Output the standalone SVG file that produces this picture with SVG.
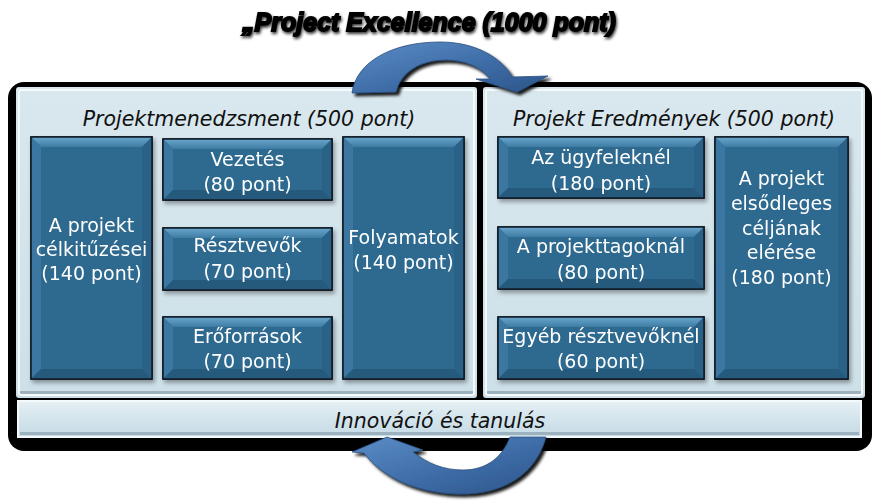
<svg xmlns="http://www.w3.org/2000/svg" width="879" height="502" viewBox="0 0 879 502">
<defs>
<linearGradient id="panelG" x1="0" y1="0" x2="0" y2="1">
<stop offset="0" stop-color="#d9e8ee"/><stop offset="1" stop-color="#cde0e8"/>
</linearGradient>
<linearGradient id="barG" x1="0" y1="0" x2="0" y2="1">
<stop offset="0" stop-color="#e6f0f4"/><stop offset="0.5" stop-color="#d3e4ec"/><stop offset="1" stop-color="#c6dbe5"/>
</linearGradient>
<linearGradient id="topBev" x1="0" y1="0" x2="0" y2="1">
<stop offset="0" stop-color="#6aa6cc"/><stop offset="1" stop-color="#3d7ca4"/>
</linearGradient>
<linearGradient id="arrowG" x1="0" y1="0" x2="1" y2="1">
<stop offset="0" stop-color="#5b8cc6"/><stop offset="0.6" stop-color="#3b69a3"/><stop offset="1" stop-color="#2d5589"/>
</linearGradient>
<filter id="sh" x="-10%" y="-10%" width="130%" height="140%">
<feDropShadow dx="2" dy="3" stdDeviation="2" flood-color="#000" flood-opacity="0.35"/>
</filter>
<filter id="ash" x="-20%" y="-20%" width="150%" height="150%">
<feDropShadow dx="3" dy="3" stdDeviation="1.5" flood-color="#000" flood-opacity="0.9"/>
</filter>
<filter id="tsh" x="-5%" y="-20%" width="115%" height="160%">
<feDropShadow dx="1" dy="2" stdDeviation="1.5" flood-color="#000" flood-opacity="0.8"/>
</filter>
</defs>
<style>
.panel{fill:url(#panelG);}
.pedge{fill:none;stroke:#f4f9fb;stroke-width:2;}
.pbot{fill:#9cb3bf;}
.box{fill:#2e6a8f;stroke:#0c1a24;stroke-width:1.5;}
.bt{fill:url(#topBev);}
.bl{fill:#3a77a0;}
.br{fill:#2a6287;}
.bb{fill:#255a7c;}
.lbl{font-family:"DejaVu Sans",Verdana,sans-serif;font-size:19px;fill:#ffffff;text-anchor:middle;}
.hdr{font-family:"DejaVu Sans",Verdana,sans-serif;font-size:20.5px;font-style:italic;fill:#111;text-anchor:middle;}
.title{font-family:"Liberation Sans",Arial,sans-serif;font-size:25px;font-weight:bold;font-style:italic;fill:#000;stroke:#000;stroke-width:1.8;text-anchor:middle;}
.arrow{fill:url(#arrowG);stroke:#2a4f80;stroke-width:0.8;}
</style>

<!-- title -->
<g id="title">
<text class="title" x="429" y="31" filter="url(#tsh)">„Project Excellence (1000 pont)</text>
</g>

<!-- frame -->
<g id="frame">
<rect x="8" y="82" width="864" height="369" rx="16" fill="#000"/>
</g>

<!-- left panel -->
<g id="panel-pm">
<rect class="panel" x="16" y="87" width="461" height="311" rx="3"/>
<rect class="pbot" x="20" y="391" width="453" height="5"/>
<rect class="pedge" x="19" y="90" width="455" height="305" rx="2"/>
<text class="hdr" x="249" y="126">Projektmenedzsment (500 pont)</text>
</g>

<!-- right panel -->
<g id="panel-pe">
<rect class="panel" x="483" y="87" width="382" height="311" rx="3"/>
<rect class="pbot" x="487" y="391" width="374" height="5"/>
<rect class="pedge" x="486" y="90" width="376" height="305" rx="2"/>
<text class="hdr" x="674" y="126">Projekt Eredmények (500 pont)</text>
</g>

<!-- bottom bar -->
<g id="bar-innovacio">
<rect x="18" y="401" width="843" height="36" fill="url(#barG)" stroke="#f4f9fb" stroke-width="2"/>
<rect x="20" y="432" width="839" height="3" fill="#9cb3bf"/>
<text class="hdr" x="440" y="428">Innováció és tanulás</text>
</g>

<!-- boxes -->
<g id="box-celkituzesei" filter="url(#sh)">
<rect class="box" x="31" y="137" width="121" height="242"/>
<polygon class="bt" points="31,137 152,137 142,147 41,147"/>
<polygon class="bl" points="31,137 41,147 41,369 31,379"/>
<polygon class="br" points="152,137 142,147 142,369 152,379"/>
<polygon class="bb" points="31,379 41,369 142,369 152,379"/>
<rect x="31" y="137" width="121" height="242" fill="none" stroke="#0c1a24" stroke-width="1.5"/>
<text class="lbl" x="91.5" y="232">A projekt</text>
<text class="lbl" x="91.5" y="256">célkitűzései</text>
<text class="lbl" x="91.5" y="280">(140 pont)</text>
</g>

<g id="box-vezetes" filter="url(#sh)">
<rect class="box" x="163" y="139" width="169" height="61"/>
<polygon class="bt" points="163,139 332,139 322,149 173,149"/>
<polygon class="bl" points="163,139 173,149 173,190 163,200"/>
<polygon class="br" points="332,139 322,149 322,190 332,200"/>
<polygon class="bb" points="163,200 173,190 322,190 332,200"/>
<rect x="163" y="139" width="169" height="61" fill="none" stroke="#0c1a24" stroke-width="1.5"/>
<text class="lbl" x="247.5" y="166">Vezetés</text>
<text class="lbl" x="247.5" y="191">(80 pont)</text>
</g>

<g id="box-resztvevok" filter="url(#sh)">
<rect class="box" x="163" y="228" width="169" height="62"/>
<polygon class="bt" points="163,228 332,228 322,238 173,238"/>
<polygon class="bl" points="163,228 173,238 173,280 163,290"/>
<polygon class="br" points="332,228 322,238 322,280 332,290"/>
<polygon class="bb" points="163,290 173,280 322,280 332,290"/>
<rect x="163" y="228" width="169" height="62" fill="none" stroke="#0c1a24" stroke-width="1.5"/>
<text class="lbl" x="247.5" y="252">Résztvevők</text>
<text class="lbl" x="247.5" y="278">(70 pont)</text>
</g>

<g id="box-eroforrasok" filter="url(#sh)">
<rect class="box" x="163" y="317" width="169" height="62"/>
<polygon class="bt" points="163,317 332,317 322,327 173,327"/>
<polygon class="bl" points="163,317 173,327 173,369 163,379"/>
<polygon class="br" points="332,317 322,327 322,369 332,379"/>
<polygon class="bb" points="163,379 173,369 322,369 332,379"/>
<rect x="163" y="317" width="169" height="62" fill="none" stroke="#0c1a24" stroke-width="1.5"/>
<text class="lbl" x="247.5" y="343">Erőforrások</text>
<text class="lbl" x="247.5" y="368">(70 pont)</text>
</g>

<g id="box-folyamatok" filter="url(#sh)">
<rect class="box" x="343" y="137" width="121" height="242"/>
<polygon class="bt" points="343,137 464,137 454,147 353,147"/>
<polygon class="bl" points="343,137 353,147 353,369 343,379"/>
<polygon class="br" points="464,137 454,147 454,369 464,379"/>
<polygon class="bb" points="343,379 353,369 454,369 464,379"/>
<rect x="343" y="137" width="121" height="242" fill="none" stroke="#0c1a24" stroke-width="1.5"/>
<text class="lbl" x="403.5" y="244">Folyamatok</text>
<text class="lbl" x="403.5" y="269">(140 pont)</text>
</g>

<g id="box-ugyfeleknel" filter="url(#sh)">
<rect class="box" x="498" y="137" width="206" height="61"/>
<polygon class="bt" points="498,137 704,137 694,147 508,147"/>
<polygon class="bl" points="498,137 508,147 508,188 498,198"/>
<polygon class="br" points="704,137 694,147 694,188 704,198"/>
<polygon class="bb" points="498,198 508,188 694,188 704,198"/>
<rect x="498" y="137" width="206" height="61" fill="none" stroke="#0c1a24" stroke-width="1.5"/>
<text class="lbl" x="601" y="164">Az ügyfeleknél</text>
<text class="lbl" x="601" y="190">(180 pont)</text>
</g>

<g id="box-projekttagoknal" filter="url(#sh)">
<rect class="box" x="498" y="227" width="206" height="62"/>
<polygon class="bt" points="498,227 704,227 694,237 508,237"/>
<polygon class="bl" points="498,227 508,237 508,279 498,289"/>
<polygon class="br" points="704,227 694,237 694,279 704,289"/>
<polygon class="bb" points="498,289 508,279 694,279 704,289"/>
<rect x="498" y="227" width="206" height="62" fill="none" stroke="#0c1a24" stroke-width="1.5"/>
<text class="lbl" x="601" y="253">A projekttagoknál</text>
<text class="lbl" x="601" y="279">(80 pont)</text>
</g>

<g id="box-egyeb" filter="url(#sh)">
<rect class="box" x="498" y="317" width="206" height="62"/>
<polygon class="bt" points="498,317 704,317 694,327 508,327"/>
<polygon class="bl" points="498,317 508,327 508,369 498,379"/>
<polygon class="br" points="704,317 694,327 694,369 704,379"/>
<polygon class="bb" points="498,379 508,369 694,369 704,379"/>
<rect x="498" y="317" width="206" height="62" fill="none" stroke="#0c1a24" stroke-width="1.5"/>
<text class="lbl" x="601" y="343">Egyéb résztvevőknél</text>
<text class="lbl" x="601" y="368">(60 pont)</text>
</g>

<g id="box-elsodleges" filter="url(#sh)">
<rect class="box" x="715" y="137" width="133" height="242"/>
<polygon class="bt" points="715,137 848,137 838,147 725,147"/>
<polygon class="bl" points="715,137 725,147 725,369 715,379"/>
<polygon class="br" points="848,137 838,147 838,369 848,379"/>
<polygon class="bb" points="715,379 725,369 838,369 848,379"/>
<rect x="715" y="137" width="133" height="242" fill="none" stroke="#0c1a24" stroke-width="1.5"/>
<text class="lbl" x="781.5" y="185">A projekt</text>
<text class="lbl" x="781.5" y="210">elsődleges</text>
<text class="lbl" x="781.5" y="235">céljának</text>
<text class="lbl" x="781.5" y="259">elérése</text>
<text class="lbl" x="781.5" y="284">(180 pont)</text>
</g>

<!-- connectors -->
<g id="connectors">
<path class="arrow" filter="url(#ash)" d="M352,93 C356,62 392,42 440,42 C476,42 502,58 512,77 L548,76 L517,92 L476,79 L490,79 C480,66 464,60 446,60 C420,60 401,72 396,92 Z"/>
<path class="arrow" filter="url(#ash)" d="M387,437 L423,450 L413,452 C428,464 444,470 463,470 C486,470 502,458 510,437 L546,437 C536,474 504,494 461,494 C420,494 382,478 364,453 L352,452 Z"/>
</g>
</svg>
